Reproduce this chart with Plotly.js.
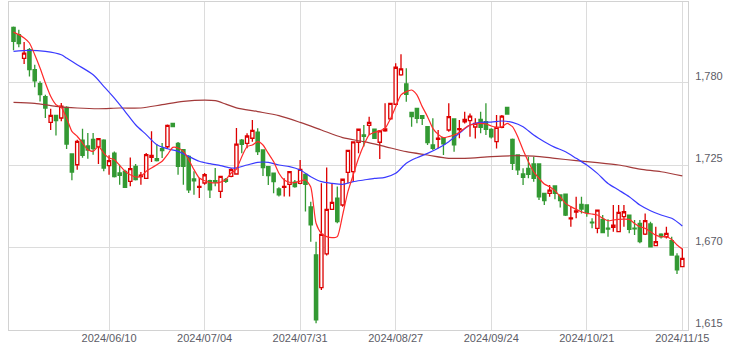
<!DOCTYPE html>
<html>
<head>
<meta charset="utf-8">
<script src="https://cdn.plot.ly/plotly-3.0.1.min.js"></script>
<style>
html,body{margin:0;padding:0;background:#fff;}
#chart{width:735px;height:359px;}
</style>
</head>
<body>
<div id="chart"></div>
<script>
// Trading days (category axis)
const dates = [
"2024/05/15","2024/05/16","2024/05/17","2024/05/20","2024/05/21","2024/05/22","2024/05/23","2024/05/24","2024/05/27","2024/05/28","2024/05/29","2024/05/30","2024/05/31",
"2024/06/03","2024/06/04","2024/06/05","2024/06/06","2024/06/07","2024/06/10","2024/06/11","2024/06/12","2024/06/13","2024/06/14","2024/06/17","2024/06/18","2024/06/19","2024/06/20","2024/06/21","2024/06/24","2024/06/25","2024/06/26","2024/06/27","2024/06/28",
"2024/07/01","2024/07/02","2024/07/03","2024/07/04","2024/07/05","2024/07/08","2024/07/09","2024/07/10","2024/07/11","2024/07/12","2024/07/16","2024/07/17","2024/07/18","2024/07/19","2024/07/22","2024/07/23","2024/07/24","2024/07/25","2024/07/26","2024/07/29","2024/07/30","2024/07/31",
"2024/08/01","2024/08/02","2024/08/05","2024/08/06","2024/08/07","2024/08/08","2024/08/09","2024/08/13","2024/08/14","2024/08/15","2024/08/16","2024/08/19","2024/08/20","2024/08/21","2024/08/22","2024/08/23","2024/08/26","2024/08/27","2024/08/28","2024/08/29","2024/08/30",
"2024/09/02","2024/09/03","2024/09/04","2024/09/05","2024/09/06","2024/09/09","2024/09/10","2024/09/11","2024/09/12","2024/09/13","2024/09/17","2024/09/18","2024/09/19","2024/09/20","2024/09/24","2024/09/25","2024/09/26","2024/09/27","2024/09/30",
"2024/10/01","2024/10/02","2024/10/03","2024/10/04","2024/10/07","2024/10/08","2024/10/09","2024/10/10","2024/10/11","2024/10/15","2024/10/16","2024/10/17","2024/10/18","2024/10/21","2024/10/22","2024/10/23","2024/10/24","2024/10/25","2024/10/28","2024/10/29","2024/10/30","2024/10/31",
"2024/11/01","2024/11/05","2024/11/06","2024/11/07","2024/11/08","2024/11/11","2024/11/12","2024/11/13","2024/11/14","2024/11/15"
];

const openP = [1817.2,1812.3,1796.5,1802.2,1788.9,1779.5,1770.9,1753.7,1758.4,1756.6,1763.7,1732.6,1725.4,1741.9,1737.9,1742.4,1737.4,1741.9,1724.8,1733.2,1719.9,1721.0,1714.3,1724.3,1717.5,1716.3,1730.3,1729.4,1736.1,1737.4,1753.0,1739.7,1735.4,1731.0,1715.9,1710.3,1713.2,1714.7,1714.7,1707.6,1715.6,1717.6,1719.2,1741.9,1739.7,1743.1,1747.1,1735.3,1724.1,1719.7,1709.2,1710.3,1712.3,1713.7,1713.0,1719.0,1697.2,1665.1,1643.3,1665.8,1695.6,1703.0,1698.5,1720.3,1720.8,1740.4,1745.3,1751.7,1749.1,1740.4,1748.0,1756.0,1765.8,1785.4,1779.4,1760.4,1763.1,1758.2,1750.8,1738.6,1742.4,1743.5,1748.6,1756.0,1748.8,1754.1,1754.8,1750.6,1755.7,1754.1,1749.0,1740.8,1750.4,1763.7,1742.3,1731.9,1719.2,1723.0,1725.9,1725.9,1706.3,1706.3,1711.2,1705.2,1705.8,1689.2,1693.8,1698.9,1698.5,1687.0,1682.9,1688.9,1683.0,1683.6,1680.7,1690.7,1691.8,1683.0,1686.2,1679.1,1685.8,1671.3,1679.1,1677.3,1674.7,1664.4,1657.3];
const highP = [1817.8,1815.6,1807.4,1803.4,1792.2,1781.1,1772.2,1762.8,1758.8,1766.6,1764.5,1733.0,1742.1,1749.5,1746.6,1746.6,1743.3,1742.4,1731.7,1734.3,1725.4,1722.1,1730.3,1725.9,1720.5,1733.2,1747.7,1739.2,1739.9,1752.2,1753.0,1740.6,1735.4,1731.7,1721.0,1716.5,1719.8,1715.4,1723.2,1718.0,1716.5,1723.2,1749.9,1742.6,1746.4,1755.3,1749.7,1735.5,1724.5,1720.0,1710.3,1716.3,1721.0,1715.2,1728.6,1719.7,1700.7,1674.0,1713.0,1723.5,1713.0,1710.8,1716.0,1735.2,1741.0,1749.3,1752.0,1757.5,1749.5,1748.6,1766.4,1766.6,1793.2,1799.2,1789.8,1760.6,1763.5,1758.4,1751.0,1756.4,1748.6,1743.7,1766.4,1756.2,1755.3,1760.8,1759.7,1756.4,1760.8,1766.4,1749.7,1758.6,1758.6,1763.9,1743.0,1732.0,1723.0,1730.8,1730.8,1726.3,1706.5,1711.8,1711.5,1705.4,1706.0,1697.4,1704.0,1704.0,1698.7,1689.6,1695.3,1691.8,1688.9,1698.5,1698.5,1698.5,1692.0,1688.5,1688.5,1692.9,1687.3,1684.0,1679.6,1684.0,1677.3,1666.2,1669.5];
const lowP = [1801.8,1803.8,1792.7,1784.4,1777.1,1767.7,1756.6,1748.6,1745.0,1754.4,1735.9,1715.0,1722.1,1730.0,1729.4,1732.1,1725.9,1721.0,1718.7,1716.9,1712.1,1709.8,1711.0,1714.9,1712.0,1715.9,1727.2,1727.6,1729.9,1736.1,1750.5,1718.7,1712.1,1706.5,1705.4,1703.2,1712.1,1703.2,1711.0,1703.2,1713.2,1717.0,1718.7,1733.0,1736.4,1740.8,1731.9,1717.9,1711.9,1706.3,1704.1,1704.1,1704.1,1710.0,1712.3,1694.1,1674.0,1619.5,1641.7,1664.7,1695.2,1686.3,1697.4,1713.0,1714.1,1733.0,1737.5,1745.3,1742.6,1729.2,1747.5,1755.3,1765.3,1784.9,1767.5,1750.8,1753.1,1752.0,1738.6,1735.3,1736.4,1731.9,1747.5,1734.1,1743.1,1753.0,1744.1,1743.0,1746.4,1745.2,1743.0,1736.3,1749.7,1759.0,1721.9,1718.5,1711.8,1716.3,1714.1,1701.8,1698.5,1704.0,1702.3,1696.9,1691.1,1684.0,1689.6,1692.9,1690.7,1682.9,1679.6,1679.6,1677.3,1680.7,1680.5,1684.0,1679.6,1678.4,1672.9,1678.4,1670.4,1671.0,1676.2,1676.2,1664.6,1652.4,1657.0];
const closeP = [1807.8,1806.3,1800.0,1788.9,1781.5,1772.2,1763.3,1758.4,1754.8,1764.6,1739.2,1720.5,1741.0,1731.7,1735.2,1736.1,1742.8,1723.2,1728.1,1717.4,1718.3,1710.3,1722.8,1715.4,1718.5,1732.1,1731.7,1728.1,1734.8,1751.7,1750.8,1724.3,1724.3,1708.7,1714.7,1711.0,1718.7,1708.7,1713.8,1717.6,1714.3,1722.1,1739.2,1739.0,1744.6,1748.4,1734.1,1723.5,1718.1,1714.1,1705.2,1710.9,1720.8,1710.8,1722.3,1712.3,1685.2,1621.7,1678.9,1695.6,1700.3,1687.4,1715.7,1735.0,1740.6,1749.1,1744.4,1753.7,1743.1,1748.0,1749.3,1766.4,1790.5,1789.4,1772.4,1757.5,1756.4,1756.4,1740.2,1736.4,1743.1,1739.3,1757.5,1738.6,1749.5,1755.7,1757.9,1753.0,1750.4,1749.0,1744.1,1750.4,1757.9,1759.3,1726.3,1721.9,1717.0,1719.0,1716.3,1704.0,1701.4,1708.5,1706.3,1701.4,1691.8,1689.8,1694.5,1695.8,1693.4,1686.6,1695.1,1680.0,1682.4,1685.1,1693.6,1694.0,1682.2,1682.6,1674.0,1688.0,1670.6,1674.0,1677.3,1679.6,1665.1,1655.1,1662.9];

// Short moving average (read at every candle)
const maShort = [1814.0,1812.3,1810.0,1806.7,1798.9,1790.0,1780.0,1771.1,1765.5,1763.7,1756.6,1747.7,1744.4,1739.9,1735.4,1734.3,1737.7,1733.2,1729.9,1728.8,1725.0,1721.0,1718.7,1717.2,1717.6,1721.0,1723.2,1725.4,1727.7,1732.1,1737.0,1736.6,1734.3,1728.8,1722.1,1716.5,1714.7,1713.6,1713.2,1713.8,1715.4,1719.9,1722.5,1730.8,1737.5,1738.6,1740.8,1738.6,1733.0,1727.5,1719.7,1715.2,1713.7,1713.4,1714.5,1715.2,1710.5,1686.3,1679.6,1677.4,1676.7,1677.4,1691.8,1707.4,1718.6,1729.7,1738.6,1745.3,1747.1,1748.0,1749.7,1756.0,1764.2,1772.0,1774.2,1775.3,1772.0,1764.2,1757.5,1749.7,1745.7,1743.5,1744.2,1745.3,1747.1,1749.8,1751.9,1752.6,1753.0,1752.6,1751.3,1750.4,1750.8,1753.0,1750.8,1744.1,1735.2,1727.4,1720.7,1716.3,1712.5,1710.7,1708.1,1704.0,1699.6,1697.4,1695.6,1694.0,1692.9,1692.5,1691.8,1689.6,1688.0,1688.5,1688.9,1689.1,1688.9,1686.2,1684.0,1682.9,1680.7,1678.4,1677.3,1677.3,1675.5,1671.8,1669.1];

// Medium moving average (read at sampled candles)
const maMidIdx = [0,3,6,9,10,12,15,17,19,21,23,25,27,29,31,33,35,37,39,41,42,44,46,48,50,52,54,56,58,60,62,64,66,68,70,72,74,76,78,80,82,84,86,88,90,92,94,96,98,100,102,104,106,108,110,112,114,116,118,120,122,124,126];
const maMid = [1801.1,1801.8,1801.1,1798.9,1796.7,1792.2,1785.5,1777.8,1769.9,1761.1,1752.1,1745.5,1738.8,1736.1,1734.3,1731.0,1727.7,1726.1,1724.8,1723.2,1723.3,1725.2,1727.0,1727.0,1725.2,1724.1,1721.9,1717.4,1714.1,1713.0,1712.3,1714.1,1715.2,1716.3,1717.0,1719.7,1726.4,1730.1,1733.0,1736.4,1740.8,1746.4,1751.9,1753.7,1753.9,1754.6,1753.7,1750.8,1745.2,1740.8,1737.0,1734.1,1729.7,1725.2,1719.6,1712.9,1708.5,1704.0,1698.5,1694.7,1691.8,1689.6,1684.5];

// Long moving average (read at sampled candles)
const maLongIdx = [0,4,8,12,16,20,24,28,32,36,38,40,42,46,50,54,58,62,66,70,74,78,82,85,90,94,98,102,106,110,114,118,122,126];
const maLong = [1767.1,1766.4,1764.4,1763.3,1762.8,1763.3,1763.3,1765.5,1767.7,1768.6,1768.2,1765.9,1763.4,1760.9,1758.2,1753.7,1748.6,1743.5,1740.8,1737.5,1734.1,1731.9,1729.7,1729.7,1730.8,1731.4,1731.2,1729.7,1728.1,1726.8,1725.2,1722.5,1720.7,1717.9];

const xTickIdx = [18,36,54,72,90,108,126];
const yTicks = [1615,1670,1725,1780];
const yTickText = ["1,615","1,670","1,725","1,780"];

const traces = [
  {
    type: "candlestick",
    x: dates, open: openP, high: highP, low: lowP, close: closeP,
    increasing: {line: {color: "#dd0000", width: 1.3}, fillcolor: "#ffffff"},
    decreasing: {line: {color: "#339933", width: 1.3}, fillcolor: "#339933"},
    whiskerwidth: 0,
    hoverinfo: "none",
    showlegend: false
  },
  {
    type: "scatter", mode: "lines",
    x: maLongIdx.map(i => dates[i]), y: maLong,
    line: {color: "#a33a3a", width: 1.2, shape: "spline", smoothing: 0.8},
    hoverinfo: "none", showlegend: false
  },
  {
    type: "scatter", mode: "lines",
    x: maMidIdx.map(i => dates[i]), y: maMid,
    line: {color: "#3a3aff", width: 1.2, shape: "spline", smoothing: 0.8},
    hoverinfo: "none", showlegend: false
  },
  {
    type: "scatter", mode: "lines",
    x: dates, y: maShort,
    line: {color: "#ff2a2a", width: 1.2, shape: "spline", smoothing: 0.6},
    hoverinfo: "none", showlegend: false
  }
];

const tickFont = {family: "Liberation Sans, Arial, sans-serif", size: 11, color: "#5c5c66"};

const layout = {
  width: 735, height: 359,
  margin: {l: 9, r: 47, t: 2, b: 29, pad: 0},
  paper_bgcolor: "#ffffff",
  plot_bgcolor: "#ffffff",
  showlegend: false,
  boxgap: 0.12,
  xaxis: {
    type: "category",
    categoryorder: "array",
    categoryarray: dates,
    range: [-0.85, 127.07],
    tickmode: "array",
    tickvals: xTickIdx.map(i => dates[i]),
    ticktext: xTickIdx.map(i => dates[i]),
    showgrid: true, gridcolor: "#dcdcdc", gridwidth: 1,
    showline: true, linecolor: "#d2d2d2", linewidth: 1, mirror: true,
    ticks: "",
    ticklabelstandoff: -2,
    tickfont: tickFont,
    rangeslider: {visible: false},
    fixedrange: true
  },
  yaxis: {
    side: "right",
    range: [1615, 1834.1],
    tickmode: "array",
    tickvals: yTicks,
    ticktext: yTickText,
    showgrid: true, gridcolor: "#dcdcdc", gridwidth: 1,
    showline: true, linecolor: "#d2d2d2", linewidth: 1, mirror: true,
    zeroline: false,
    ticks: "",
    ticklabelshift: -7,
    ticklabelstandoff: 4,
    tickfont: tickFont,
    fixedrange: true
  }
};

Plotly.newPlot("chart", traces, layout, {displayModeBar: false, staticPlot: true});
</script>
</body>
</html>
